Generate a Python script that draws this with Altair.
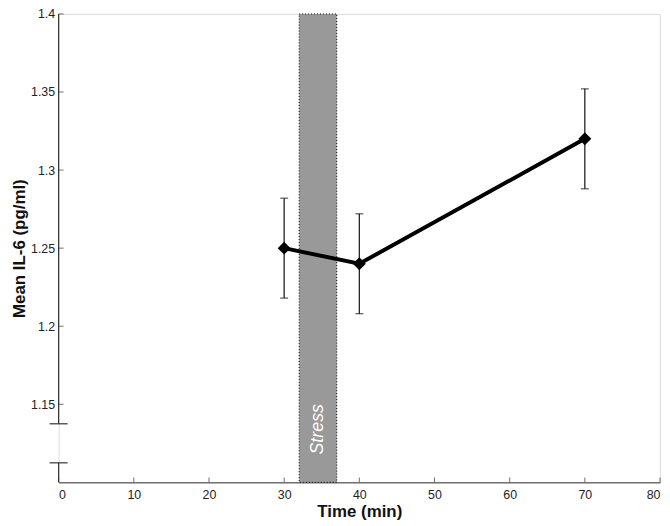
import altair as alt
import pandas as pd

time = [30, 40, 70]
mean_il6 = [1.25, 1.24, 1.32]
err = [0.032, 0.032, 0.032]

y_ticks = [1.15, 1.2, 1.25, 1.3, 1.35, 1.4]
x_ticks = [0, 10, 20, 30, 40, 50, 60, 70, 80]
stress_start, stress_end = 32, 37
y_min, y_max = 1.1, 1.4
break_low, break_high = 1.1125, 1.1375

FONT = "Liberation Sans"
AX = "#333333"

df = pd.DataFrame({"t": time, "m": mean_il6,
                   "lo": [m - e for m, e in zip(mean_il6, err)],
                   "hi": [m + e for m, e in zip(mean_il6, err)]})

xs = alt.Scale(domain=[0, 80], nice=False)
ys = alt.Scale(domain=[y_min, y_max], nice=False, zero=False)

xaxis = alt.Axis(values=x_ticks, title="Time (min)", ticks=False, grid=False,
                 domainColor=AX, labelFont=FONT, labelFontSize=12.5, labelColor="#222",
                 labelPadding=6, titleFont=FONT, titleFontSize=17, titleFontWeight="bold",
                 titleColor="#111", titlePadding=3)
yaxis = alt.Axis(values=y_ticks, format=".2~f", title="Mean IL-6 (pg/ml)", ticks=False,
                 grid=False, domain=False, labelFont=FONT, labelFontSize=12.5, labelColor="#222",
                 labelPadding=4, titleFont=FONT, titleFontSize=17, titleFontWeight="bold",
                 titleColor="#111", titlePadding=2)

band_df = pd.DataFrame({"x1": [stress_start], "x2": [stress_end], "y1": [y_min], "y2": [y_max]})
band = alt.Chart(band_df).mark_rect(fill="#999999", stroke="#000", strokeWidth=1,
                                    strokeDash=[1, 2]).encode(
    x=alt.X("x1:Q", scale=xs, axis=xaxis), x2="x2:Q",
    y=alt.Y("y1:Q", scale=ys, axis=yaxis), y2="y2:Q")

stress_text = alt.Chart(pd.DataFrame({"x": [(stress_start + stress_end) / 2], "y": [1.134],
                                      "s": ["Stress"]})).mark_text(
    angle=270, color="white", font=FONT, fontSize=18, fontStyle="italic").encode(
    x=alt.X("x:Q", scale=xs), y=alt.Y("y:Q", scale=ys), text="s:N")

# y axis line with break
yline_df = pd.DataFrame({"x": [0, 0], "y1": [y_min, break_high], "y2": [break_low, y_max]})
yline = alt.Chart(yline_df).mark_rule(color=AX, strokeWidth=1.2).encode(
    x=alt.X("x:Q", scale=xs), y=alt.Y("y1:Q", scale=ys), y2="y2:Q")
brk_df = pd.DataFrame({"x1": [-1.2, -1.2], "x2": [1.2, 1.2], "y": [break_low, break_high]})
brk = alt.Chart(brk_df).mark_rule(color=AX, strokeWidth=1.2).encode(
    x=alt.X("x1:Q", scale=xs), x2="x2:Q", y=alt.Y("y:Q", scale=ys))

ytk = alt.Chart(pd.DataFrame({"y": y_ticks, "x": [0] * len(y_ticks)})).mark_tick(
    orient="horizontal", size=5, thickness=1, color=AX, xOffset=2.5).encode(
    x=alt.X("x:Q", scale=xs), y=alt.Y("y:Q", scale=ys))
xtk = alt.Chart(pd.DataFrame({"x": x_ticks, "y": [y_min] * len(x_ticks)})).mark_tick(
    orient="vertical", size=5, thickness=1, color=AX, yOffset=-2.5).encode(
    x=alt.X("x:Q", scale=xs), y=alt.Y("y:Q", scale=ys))

base = alt.Chart(df)
ebar = base.mark_rule(color="#111", strokeWidth=1.2).encode(
    x=alt.X("t:Q", scale=xs), y=alt.Y("lo:Q", scale=ys), y2="hi:Q")
cap_lo = base.mark_tick(orient="horizontal", size=8, thickness=1.2, color="#111").encode(
    x=alt.X("t:Q", scale=xs), y=alt.Y("lo:Q", scale=ys))
cap_hi = base.mark_tick(orient="horizontal", size=8, thickness=1.2, color="#111").encode(
    x=alt.X("t:Q", scale=xs), y=alt.Y("hi:Q", scale=ys))
line = base.mark_line(color="#000", strokeWidth=4).encode(
    x=alt.X("t:Q", scale=xs), y=alt.Y("m:Q", scale=ys))
pts = base.mark_point(shape="diamond", size=170, filled=True, color="#000", opacity=1).encode(
    x=alt.X("t:Q", scale=xs), y=alt.Y("m:Q", scale=ys))

chart = alt.layer(band, stress_text, yline, brk, ytk, xtk, ebar, cap_lo, cap_hi, line, pts).properties(
    width=606, height=472,
    autosize=alt.AutoSizeParams(type="none"),
    padding={"left": 51, "top": 4, "right": 2, "bottom": 40},
).configure_view(stroke=None).configure(background="white")

chart.save("out.html", embed_options={"renderer": "svg", "actions": False})
